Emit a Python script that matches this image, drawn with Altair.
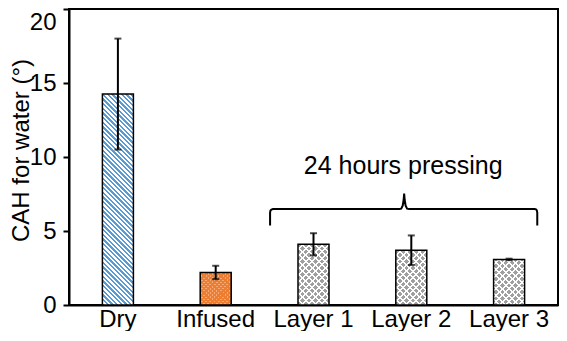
import math
import altair as alt
import pandas as pd

# ---- data ----
categories = ["Dry", "Infused", "Layer 1", "Layer 2", "Layer 3"]
values = [14.25, 2.2, 4.1, 3.7, 3.08]
errors = [3.75, 0.45, 0.75, 1.0, 0.05]

# curly brace annotation (x in category units 0..5, y in data units)
brace_x = [2.056, 2.056, 2.060, 2.070, 2.085, 3.377, 3.397, 3.412, 3.422, 3.427,
           3.432, 3.442, 3.457, 3.478, 4.763, 4.778, 4.784, 4.788, 4.788]
brace_y = [5.37, 6.25, 6.38, 6.45, 6.48, 6.48, 6.51, 6.71, 7.11, 7.52,
           7.11, 6.71, 6.51, 6.48, 6.48, 6.45, 6.38, 6.25, 5.37]
note_text = ["24 hours pressing"]
note_x = [3.417]
note_y = [8.86]

# ---- layout / style ----
W, H = 489, 296
YMAX = 20
BAR_W = 31
FONT = "Liberation Sans"
FS = 24

df = pd.DataFrame({"cat": categories, "val": values, "err": errors})
df["lo"] = df["val"] - df["err"]
df["hi"] = df["val"] + df["err"]
brace_df = pd.DataFrame({"bx": brace_x, "by": brace_y, "i": list(range(len(brace_x)))})
note_df = pd.DataFrame({"t": note_text, "nx": note_x, "ny": note_y})


def stripes(w, h, period, duty, on, off, diag):
    """Linear gradient (bbox units) producing 45-degree stripes in pixel space."""
    L = (w + h) / math.sqrt(2)
    k = (w + h) / (w * w + h * h)
    if diag == "back":
        x1, y1, x2, y2 = 0, 1, k * w, 1 - k * h
    else:
        x1, y1, x2, y2 = 0, 0, k * w, k * h
    stops = []
    d = 0.0
    while d < L - 1e-9:
        a = d / L
        b = min((d + duty * period) / L, 1)
        c = min((d + period) / L, 1)
        stops += [(a, on), (b, on), (b, off), (c, off)]
        d += period
    return {
        "gradient": "linear", "x1": x1, "y1": y1, "x2": x2, "y2": y2,
        "stops": [{"offset": o, "color": col} for o, col in stops],
    }


xenc = alt.X("cat:N", sort=categories,
             scale=alt.Scale(paddingInner=0, paddingOuter=0),
             axis=alt.Axis(title=None, ticks=False, tickSize=0, labelAngle=0,
                           labelPadding=2, labelFontSize=FS, labelColor="black",
                           labelFont=FONT, domainColor="black", domainWidth=2))
yenc = alt.Y("val:Q", scale=alt.Scale(domain=[0, YMAX], nice=False),
             axis=alt.Axis(title="CAH for water (°)", values=[0, 5, 10, 15, 20],
                           grid=False, tickSize=6, tickWidth=2, tickColor="black",
                           labelPadding=7, labelFontSize=FS, labelColor="black",
                           labelFont=FONT, domainColor="black", domainWidth=2,
                           labelOffset={"condition": {"test": "datum.value == 20", "value": 13},
                                        "value": 0},
                           titleFont=FONT, titleFontSize=FS, titleFontWeight="normal",
                           titleColor="black", titleAngle=270, titleBaseline="top",
                           titleAlign="center", titleX=-60, titleY=141))

base = alt.Chart(df)
layers = []
TR = "rgba(255,255,255,0)"
for name, v in zip(categories, values):
    h = v * H / YMAX
    sel = base.transform_filter(alt.datum.cat == name)
    if name == "Dry":
        layers.append(sel.mark_bar(width=BAR_W, fill=stripes(BAR_W, h, 3.3, 0.5, "#5b9bd5", "white", "back"))
                      .encode(x=xenc, y=yenc))
    elif name == "Infused":
        layers.append(sel.mark_bar(width=BAR_W, fill="#f4aa78").encode(x=xenc, y=yenc))
        layers.append(sel.mark_bar(width=BAR_W, fill=stripes(BAR_W, h, 3.0, 0.45, TR, "#ed7d31", "back"))
                      .encode(x=xenc, y=yenc))
        layers.append(sel.mark_bar(width=BAR_W, fill=stripes(BAR_W, h, 3.0, 0.45, TR, "#ed7d31", "fwd"))
                      .encode(x=xenc, y=yenc))
    else:
        layers.append(sel.mark_bar(width=BAR_W, fill="#a0a0a0").encode(x=xenc, y=yenc))
        layers.append(sel.mark_bar(width=BAR_W, fill=stripes(BAR_W, h, 4.6, 0.7, TR, "white", "back"))
                      .encode(x=xenc, y=yenc))
        layers.append(sel.mark_bar(width=BAR_W, fill=stripes(BAR_W, h, 4.6, 0.7, TR, "white", "fwd"))
                      .encode(x=xenc, y=yenc))

outline = base.mark_bar(width=BAR_W, fillOpacity=0, stroke="black", strokeWidth=1.5).encode(x=xenc, y=yenc)
err_rule = base.mark_rule(color="black", strokeWidth=2).encode(x=xenc, y="lo:Q", y2="hi:Q")
cap_lo = base.mark_tick(color="black", size=7, thickness=2).encode(x=xenc, y="lo:Q")
cap_hi = base.mark_tick(color="black", size=7, thickness=2).encode(x=xenc, y="hi:Q")

bars = alt.layer(*layers, outline, err_rule, cap_lo, cap_hi)

qx = alt.Scale(domain=[0, 5], nice=False, zero=False)
brace = alt.Chart(brace_df).mark_line(color="black", strokeWidth=2).encode(
    x=alt.X("bx:Q", scale=qx, axis=None),
    y=alt.Y("by:Q"),
    order="i:Q",
)
note = alt.Chart(note_df).mark_text(font=FONT, fontSize=25, color="black",
                                    align="center", baseline="alphabetic").encode(
    x=alt.X("nx:Q", scale=qx, axis=None),
    y=alt.Y("ny:Q"),
    text="t:N",
)

chart = alt.layer(bars, brace, note).resolve_scale(x="independent").properties(
    width=W, height=H,
    autosize=alt.AutoSizeParams(type="none"),
    padding={"left": 61, "top": 1, "right": 1, "bottom": 26},
).configure(font=FONT).configure_view(stroke="black", strokeWidth=2)

chart.save("out.html", embed_options={"renderer": "svg", "actions": False})
